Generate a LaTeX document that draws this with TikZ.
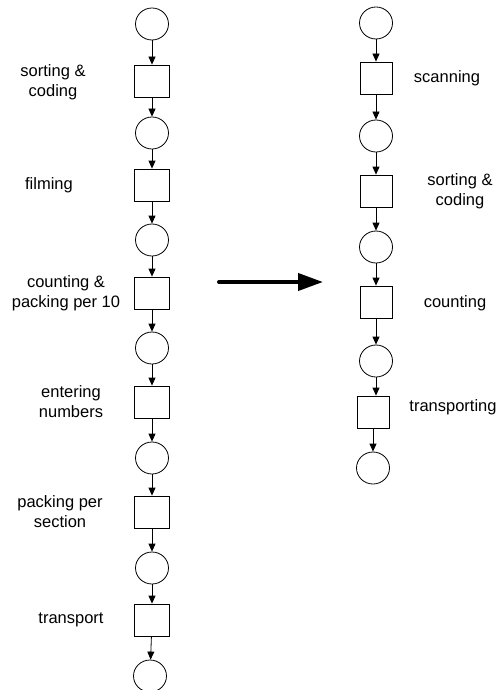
\documentclass[tikz,border=0pt]{standalone}
\usepackage{fontspec}
\setmainfont{Liberation Sans}
\usetikzlibrary{arrows.meta,shapes.geometric}
\begin{document}
\begin{tikzpicture}[x=1pt,y=-1pt,
  place/.style={draw,ellipse,minimum width=33pt,minimum height=32pt,inner sep=0pt,line width=0.8pt},
  trans/.style={draw,rectangle,minimum width=35pt,minimum height=32pt,inner sep=0pt,line width=0.8pt},
  transr/.style={trans,minimum width=32pt},
  flow/.style={line width=0.8pt,-{Triangle[length=8pt,width=7pt]}},
  lbl/.style={align=center,font=\fontsize{16.5}{20}\selectfont,inner sep=0pt},
  bigarrow/.style={line width=4pt,line cap=round,-{Triangle[length=25pt,width=17pt]}}]
\useasboundingbox (0,0) rectangle (499,690);
% left net: current process
\node[place] (lc1) at (152,24) {};
\node[trans] (lt1) at (152,81) {};
\node[place] (lc2) at (152,133) {};
\node[trans] (lt2) at (152,185) {};
\node[place] (lc3) at (152,240) {};
\node[trans] (lt3) at (152,293) {};
\node[place] (lc4) at (152,348) {};
\node[trans] (lt4) at (152,402) {};
\node[place] (lc5) at (152,458) {};
\node[trans] (lt5) at (152,512) {};
\node[place] (lc6) at (152,568) {};
\node[trans] (lt6) at (152,620) {};
\node[place] (lc7) at (150,676) {};
\foreach \a/\b in {lc1/lt1,lt1/lc2,lc2/lt2,lt2/lc3,lc3/lt3,lt3/lc4,lc4/lt4,lt4/lc5,lc5/lt5,lt5/lc6,lc6/lt6,lt6/lc7}
  \draw[flow] (\a) -- (\b);
\node[lbl] (ll1) at (53,82) {sorting \&\\coding};
\node[lbl] (ll2) at (49,185) {filming};
\node[lbl] (ll3) at (66,293) {counting \&\\packing per 10};
\node[lbl] (ll4) at (71,402) {entering\\numbers};
\node[lbl] (ll5) at (60,512) {packing per\\section};
\node[lbl] (ll6) at (71,620) {transport};
% right net: new process
\node[place] (rc1) at (376,23) {};
\node[transr] (rt1) at (376,78) {};
\node[place] (rc2) at (376,136) {};
\node[transr] (rt2) at (376,191) {};
\node[place] (rc3) at (376,247) {};
\node[transr] (rt3) at (376,302) {};
\node[place] (rc4) at (376,361) {};
\node[transr] (rt4) at (373,412) {};
\node[place] (rc5) at (373,468) {};
\foreach \a/\b in {rc1/rt1,rt1/rc2,rc2/rt2,rt2/rc3,rc3/rt3,rt3/rc4,rt4/rc5}
  \draw[flow] (\a) -- (\b);
\draw[flow] (rc4) -- (rc4 |- rt4.north);
\node[lbl] (rl1) at (447,78) {scanning};
\node[lbl] (rl2) at (460,191) {sorting \&\\coding};
\node[lbl] (rl3) at (455,303) {counting};
\node[lbl] (rl4) at (453,407) {transporting};
% transition between the two processes
\coordinate (as) at (219,282);
\coordinate (ae) at (323,282);
\draw[bigarrow] (as) -- (ae);
\end{tikzpicture}
\end{document}
